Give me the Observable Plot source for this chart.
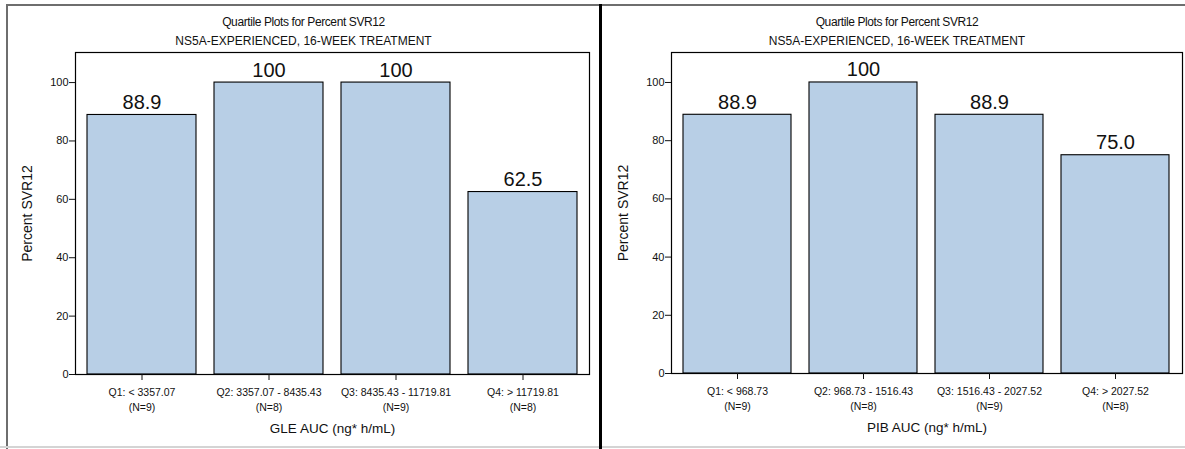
<!DOCTYPE html>
<html>
<head>
<meta charset="utf-8">
<script src="https://cdn.jsdelivr.net/npm/d3@7"></script>
<script src="https://cdn.jsdelivr.net/npm/@observablehq/plot@0.6"></script>
<style>
  html, body { margin: 0; padding: 0; background: #fff; }
  #page { position: relative; width: 1185px; height: 449px; overflow: hidden; background: #fff; }
  .rule { position: absolute; }
  .panel { position: absolute; top: 0; }
  .title {
    position: absolute; top: 13px; text-align: center;
    font-family: "Liberation Sans Narrow", "Liberation Sans", Arial, sans-serif;
    font-size: 12px; line-height: 19px; color: #111;
  }
  .title .l1 { letter-spacing: -0.4px; }
</style>
</head>
<body>
<div id="page">
  <div class="rule" style="left:6px;top:4px;width:1179px;height:2px;background:#6e6e6e"></div>
  <div class="rule" style="left:6px;top:4px;width:2px;height:445px;background:#6e6e6e"></div>
  <div class="rule" style="left:0;top:446px;width:1185px;height:2px;background:#d4d4d4"></div>
  <div id="left" class="panel" style="left:0"></div>
  <div id="right" class="panel" style="left:600px"></div>
  <div class="rule" style="left:599px;top:4px;width:3px;height:445px;background:#000"></div>
  <div id="titleLeft" class="title" style="left:8px;width:591px"></div>
  <div id="titleRight" class="title" style="left:602px;width:590px"></div>
</div>
<script>
// Chart text
const titleLine1 = "Quartile Plots for Percent SVR12";
const titleLine2 = "NS5A-EXPERIENCED, 16-WEEK TREATMENT";
const yAxisLabel = "Percent SVR12";
const yTicks = [0, 20, 40, 60, 80, 100];

// Glecaprevir exposure quartiles
const gleCategories = ["Q1: < 3357.07", "Q2: 3357.07 - 8435.43", "Q3: 8435.43 - 11719.81", "Q4: > 11719.81"];
const gleN = [9, 8, 9, 8];
const gleSvr = [88.9, 100, 100, 62.5];
const gleXLabel = "GLE AUC (ng* h/mL)";

// Pibrentasvir exposure quartiles
const pibCategories = ["Q1: < 968.73", "Q2: 968.73 - 1516.43", "Q3: 1516.43 - 2027.52", "Q4: > 2027.52"];
const pibN = [9, 8, 9, 8];
const pibSvr = [88.9, 100, 88.9, 75.0];
const pibXLabel = "PIB AUC (ng* h/mL)";

const narrowFont = '"Liberation Sans Narrow", "Liberation Sans", Arial, sans-serif';
const regularFont = '"Liberation Sans", Arial, sans-serif';
const fmtValue = v => (v === 100 ? "100" : v.toFixed(1));

function quartilePanel({categories, counts, values, xLabel, width, marginLeft, marginRight, marginBottom}) {
  const rows = categories.map((category, i) => ({category, n: counts[i], svr: values[i]}));
  const nByCategory = new Map(rows.map(d => [d.category, d.n]));
  return Plot.plot({
    width,
    height: 449,
    marginTop: 52,
    marginBottom,
    marginLeft,
    marginRight,
    style: {fontFamily: narrowFont, fontSize: "10px", color: "#111", background: "transparent", overflow: "visible"},
    x: {domain: categories, paddingInner: 0.14, paddingOuter: 0.085, label: null},
    y: {domain: [0, 110.3], label: null},
    marks: [
      Plot.barY(rows, {x: "category", y: "svr", fill: "#b8cfe6", stroke: "#000", strokeWidth: 1.1}),
      Plot.frame({stroke: "#000", strokeWidth: 1.2}),
      Plot.axisY({ticks: yTicks, tickSize: 6, tickPadding: 1, fontSize: 11, label: null, fontFamily: regularFont, letterSpacing: "-0.5px"}),
      Plot.axisX({
        tickSize: 6, tickPadding: 5, fontSize: 10.5, lineHeight: 1.4, label: null,
        tickFormat: c => `${c}\n(N=${nByCategory.get(c)})`
      }),
      Plot.text(rows, {
        x: "category", y: "svr", text: d => fmtValue(d.svr),
        lineAnchor: "bottom", dy: -6, fontSize: 20, fontFamily: regularFont, fill: "#111"
      }),
      Plot.text([yAxisLabel], {
        text: d => d, frameAnchor: "left", textAnchor: "middle", rotate: -90, dx: -48,
        fontSize: 14, fill: "#111"
      }),
      Plot.text([xLabel], {
        text: d => d, frameAnchor: "bottom", dy: 58, fontSize: 13.5, fill: "#111"
      })
    ]
  });
}

document.getElementById("left").append(quartilePanel({
  categories: gleCategories, counts: gleN, values: gleSvr, xLabel: gleXLabel,
  width: 600, marginLeft: 75, marginRight: 11, marginBottom: 75
}));
document.getElementById("right").append(quartilePanel({
  categories: pibCategories, counts: pibN, values: pibSvr, xLabel: pibXLabel,
  width: 585, marginLeft: 71, marginRight: 3, marginBottom: 76
}));

for (const id of ["titleLeft", "titleRight"]) {
  document.getElementById(id).innerHTML = `<span class="l1">${titleLine1}</span><br>${titleLine2}`;
}
</script>
</body>
</html>
